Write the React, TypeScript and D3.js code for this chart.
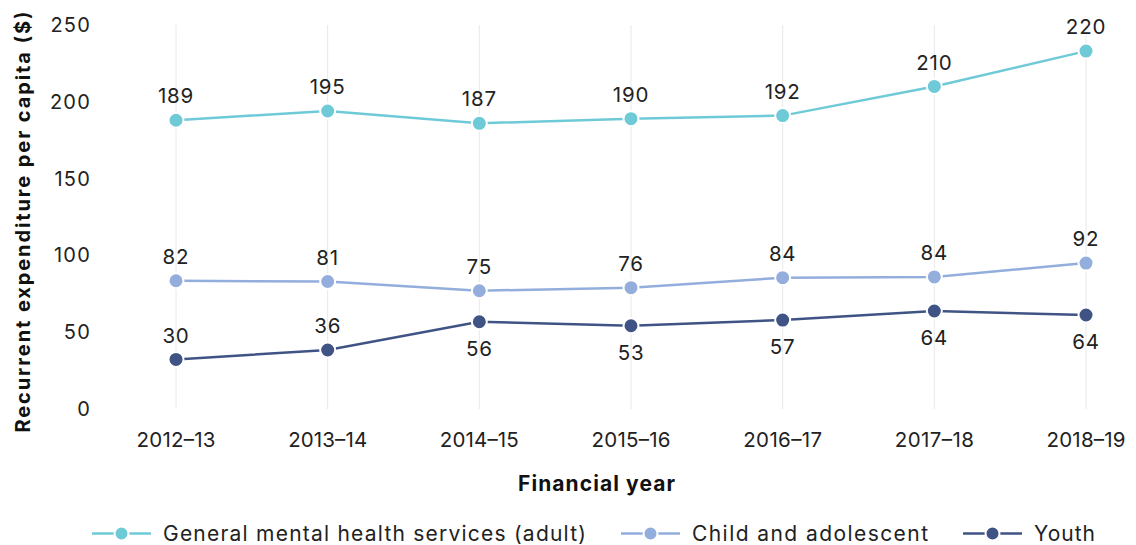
import React from "react";
import * as d3 from "d3";

const years = ["2012–13", "2013–14", "2014–15", "2015–16", "2016–17", "2017–18", "2018–19"];
const yTicks = [0, 50, 100, 150, 200, 250];

// plotted positions
const generalValues = [188, 194, 186, 189, 191, 210, 233];
const childValues = [83.5, 83, 77, 79, 85.5, 86, 95];
const youthValues = [32.3, 38.4, 56.8, 54.2, 57.9, 63.8, 61.2];

// printed labels
const generalLabels = ["189", "195", "187", "190", "192", "210", "220"];
const childLabels = ["82", "81", "75", "76", "84", "84", "92"];
const youthLabels = ["30", "36", "56", "53", "57", "64", "64"];
const youthLabelPos = ["above", "above", "below", "below", "below", "below", "below"];

const seriesNames = ["General mental health services (adult)", "Child and adolescent", "Youth"];
const colors = ["#6fcad8", "#93aedc", "#3f5384"];

const W = 1136;
const H = 545;
const FONT = "Inter, 'Noto Sans', sans-serif";

export default function App() {
  const x = d3.scalePoint<string>().domain(years).range([176, 1086]);
  const y = d3.scaleLinear().domain([0, 250]).range([409, 25]);
  const line = d3
    .line<number>()
    .x((_, i) => x(years[i]) as number)
    .y((d) => y(d));

  const series = [
    { values: generalValues, labels: generalLabels, pos: years.map(() => "above"), color: colors[0] },
    { values: childValues, labels: childLabels, pos: years.map(() => "above"), color: colors[1] },
    { values: youthValues, labels: youthLabels, pos: youthLabelPos, color: colors[2] },
  ];

  const legendX = [92, 621, 963];
  const legendTextLen = [423, 236, 61];

  return (
    <svg
      width={W}
      height={H}
      style={{ position: "absolute", left: 0, top: 0, background: "#fff" }}
      fontFamily={FONT}
    >
      {years.map((yr) => (
        <line
          key={yr}
          x1={x(yr)}
          x2={x(yr)}
          y1={y(250)}
          y2={y(0)}
          stroke="#e8e8e8"
          strokeWidth={1}
        />
      ))}
      {yTicks.map((t) => (
        <text key={t} x={91} y={y(t)} dy="0.35em" textAnchor="end" fontSize={20} letterSpacing={1.2} fill="#222">
          {t}
        </text>
      ))}
      {years.map((yr) => (
        <text
          key={yr}
          x={(x(yr) as number) - 39.5}
          y={440}
          dy="0.35em"
          fontSize={20.5}
          textLength={79}
          lengthAdjust="spacing"
          fill="#222"
        >
          {yr}
        </text>
      ))}
      <text
        transform={`translate(23,222) rotate(-90)`}
        x={-210.5}
        dy="0.35em"
        fontSize={20}
        fontWeight={700}
        textLength={421}
        lengthAdjust="spacing"
        fill="#111"
      >
        Recurrent expenditure per capita ($)
      </text>
      <text
        x={518}
        y={484}
        dy="0.35em"
        fontSize={21}
        fontWeight={700}
        textLength={157}
        lengthAdjust="spacing"
        fill="#111"
      >
        Financial year
      </text>

      {series.map((s, si) => (
        <g key={si}>
          <path d={line(s.values) || ""} fill="none" stroke={s.color} strokeWidth={2.5} />
          {s.values.map((v, i) => (
            <circle
              key={i}
              cx={x(years[i])}
              cy={y(v)}
              r={7.5}
              fill={s.color}
              stroke="#fff"
              strokeWidth={2}
            />
          ))}
          {s.values.map((v, i) => (
            <text
              key={"l" + i}
              x={x(years[i])}
              y={y(v) + (s.pos[i] === "above" ? -24 : 27)}
              dy="0.35em"
              textAnchor="middle"
              fontSize={20.5}
              letterSpacing={0.8}
              fill="#222"
            >
              {s.labels[i]}
            </text>
          ))}
        </g>
      ))}

      {seriesNames.map((n, i) => (
        <g key={n} transform={`translate(${legendX[i]},533.5)`}>
          <line x1={0} x2={59} y1={0} y2={0} stroke={colors[i]} strokeWidth={2.5} />
          <circle cx={29.5} cy={0} r={7} fill={colors[i]} stroke="#fff" strokeWidth={2} />
          <text
            x={71}
            y={0}
            dy="0.35em"
            fontSize={21}
            textLength={legendTextLen[i]}
            lengthAdjust="spacing"
            fill="#222"
          >
            {n}
          </text>
        </g>
      ))}
    </svg>
  );
}
